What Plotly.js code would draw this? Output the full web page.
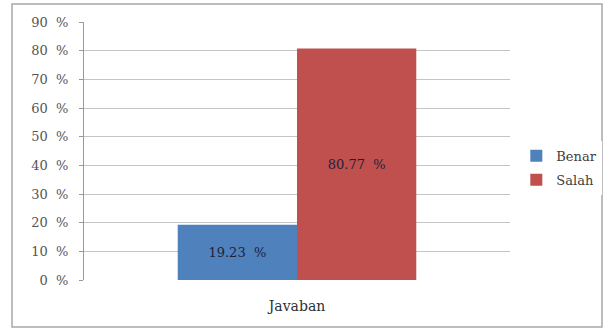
<!DOCTYPE html>
<html><head><meta charset="utf-8">
<script src="https://cdn.plot.ly/plotly-3.0.1.min.js"></script>
<style>html,body{margin:0;padding:0;background:#fff}#c{width:606px;height:329px}</style>
</head><body><div id="c"></div>
<script>
const categories = ['Javaban'];
const seriesNames = ['Benar', 'Salah'];
const benar = [19.23];
const salah = [80.77];
const tickVals = [0,10,20,30,40,50,60,70,80,90];
const tickText = ['0\u00a0 %','10\u00a0 %','20\u00a0 %','30\u00a0 %','40\u00a0 %','50\u00a0 %','60\u00a0 %','70\u00a0 %','80\u00a0 %','90\u00a0 %'];
const colors = ['#4f81bd', '#c0504d'];
const fnt = 'DejaVu Serif';

const mk = (name, vals, color) => ({
  type: 'bar', name: name, x: categories, y: vals, legendgroup: name,
  marker: {color: color},
  text: vals.map(v => v.toFixed(2) + '\u00a0 %'),
  textposition: 'inside', insidetextanchor: 'middle',
  textfont: {family: fnt, size: 13, color: '#1f1f3a'},
  hoverinfo: 'none'
});

const data = [mk(seriesNames[0], benar, colors[0]), mk(seriesNames[1], salah, colors[1])];

const layout = {
  width: 606, height: 329,
  margin: {l: 84, r: 96, t: 22, b: 49},
  paper_bgcolor: '#fff', plot_bgcolor: '#fff',
  barmode: 'group', bargap: 0.44, bargroupgap: 0,
  font: {family: fnt, size: 13, color: '#404040'},
  showlegend: true,
  legend: {xref: 'container', yref: 'container', x: 0.852, y: 0.49, xanchor: 'left', yanchor: 'middle',
    traceorder: 'grouped', tracegroupgap: 4,
    font: {family: fnt, size: 13, color: '#404040'}, itemwidth: 30},
  xaxis: {showgrid: false, showline: false, ticks: '', ticklabelstandoff: 16,
    tickfont: {family: fnt, size: 14, color: '#303030'}},
  yaxis: {range: [0, 90], tickvals: tickVals, ticktext: tickText, showgrid: true,
    gridcolor: '#c4c4c4', gridwidth: 1, zeroline: false, showline: true, linecolor: '#9a9a9a',
    ticks: 'outside', ticklen: 4, tickcolor: '#9a9a9a', ticklabelstandoff: 8,
    tickfont: {family: fnt, size: 13, color: '#555555'}},
  shapes: [{type: 'rect', xref: 'paper', yref: 'paper',
    x0: (12-84)/426, x1: (602-84)/426, y0: (280-327)/258, y1: (280-4)/258,
    line: {color: '#a8a8a8', width: 1.5}, fillcolor: 'rgba(0,0,0,0)'}]
};

Plotly.newPlot('c', data, layout, {displayModeBar: false, staticPlot: true});
</script></body></html>
